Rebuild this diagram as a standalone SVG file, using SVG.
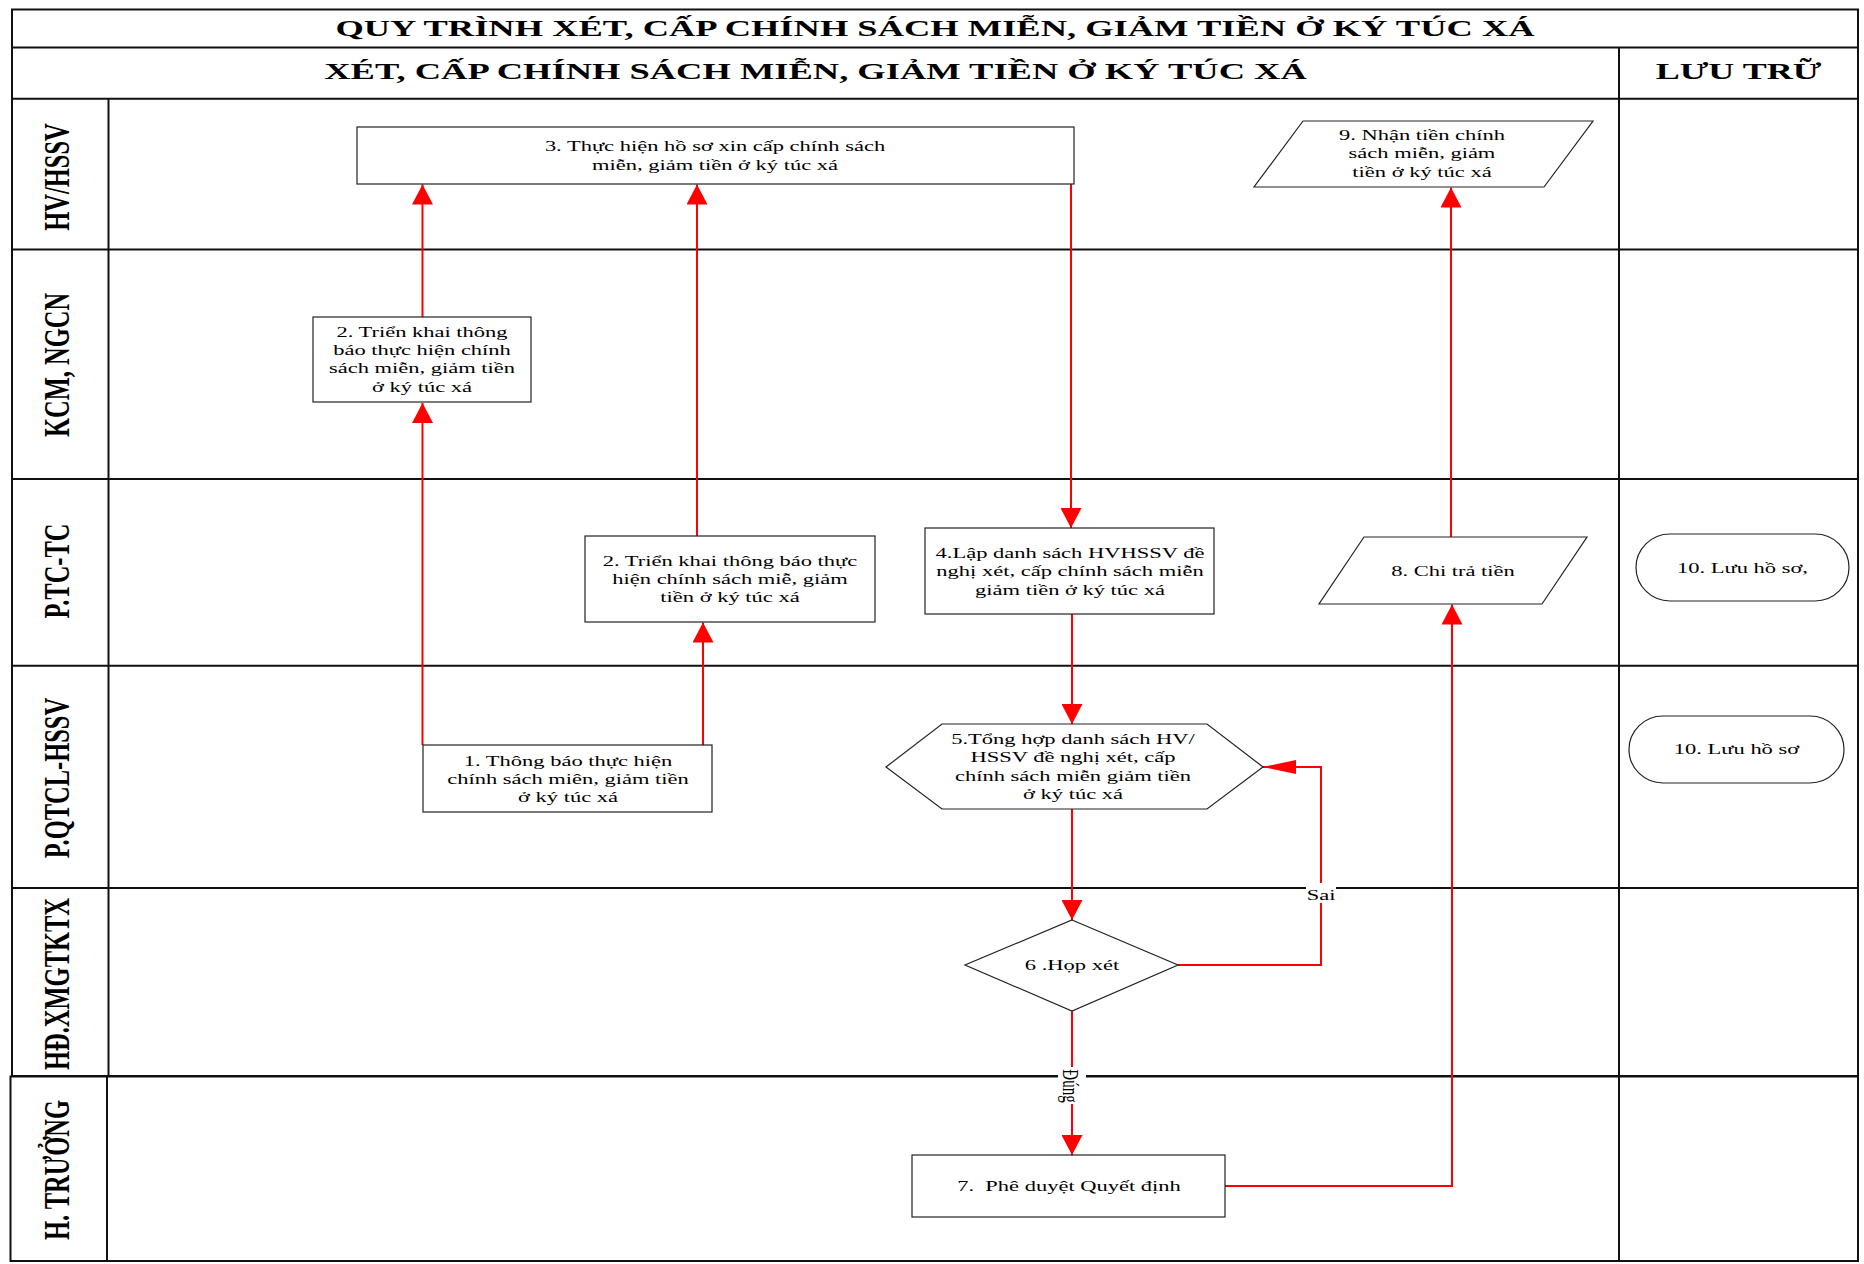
<svg xmlns="http://www.w3.org/2000/svg" width="1864" height="1264" viewBox="0 0 1864 1264">
<style>
.frame{fill:none;stroke:#111;stroke-width:2}
.node{fill:#fff;stroke:#222;stroke-width:1.2}
.t{font-family:"Liberation Serif","Times New Roman",serif;font-size:15px;fill:#000;text-anchor:middle}
.h{font-family:"Liberation Serif","Times New Roman",serif;font-size:24px;font-weight:bold;fill:#000;text-anchor:middle}
.lane{font-family:"Liberation Serif","Times New Roman",serif;font-size:24.5px;font-weight:bold;fill:#000;text-anchor:middle}
.conn{fill:none;stroke:#f00;stroke-width:2}
.bg{fill:#fff;stroke:none}
</style>
<defs>
<marker id="av" markerUnits="userSpaceOnUse" viewBox="0 0 20 21" markerWidth="20" markerHeight="21" refX="20" refY="10.5" orient="auto"><path d="M0,0 L20,10.5 L0,21 Z" fill="#f00"/></marker>
<marker id="ah" markerUnits="userSpaceOnUse" viewBox="0 0 33 14" markerWidth="33" markerHeight="14" refX="33" refY="7" orient="auto"><path d="M0,0 L33,7 L0,14 Z" fill="#f00"/></marker>
</defs>
<rect x="0" y="0" width="1864" height="1264" fill="#fff"/>
<g id="swimlanes">
<rect class="frame" x="12" y="9.5" width="1846" height="1066.5"/>
<line class="frame" x1="12" y1="47.5" x2="1858" y2="47.5"/>
<line class="frame" x1="12" y1="98.7" x2="1858" y2="98.7"/>
<line class="frame" x1="1619" y1="47.5" x2="1619" y2="1261"/>
<line class="frame" x1="108.5" y1="98.7" x2="108.5" y2="1076"/>
<line class="frame" x1="12" y1="249.6" x2="1858" y2="249.6"/>
<line class="frame" x1="12" y1="479" x2="1858" y2="479"/>
<line class="frame" x1="12" y1="665.7" x2="1858" y2="665.7"/>
<line class="frame" x1="12" y1="888" x2="1858" y2="888"/>
<path class="frame" d="M10.5,1076.5 H1858 V1261 H10.5 Z"/>
<line class="frame" x1="107" y1="1076.5" x2="107" y2="1261"/>
<text class="h" transform="translate(935,36) scale(1.52,1)">QUY TRÌNH XÉT, CẤP CHÍNH SÁCH MIỄN, GIẢM TIỀN Ở KÝ TÚC XÁ</text>
<text class="h" transform="translate(815.5,79) scale(1.52,1)">XÉT, CẤP CHÍNH SÁCH MIỄN, GIẢM TIỀN Ở KÝ TÚC XÁ</text>
<text class="h" transform="translate(1738.5,79) scale(1.5,1)">LƯU TRỮ</text>
<text class="lane" transform="translate(69,177) scale(1.5,1) rotate(-90)">HV/HSSV</text>
<text class="lane" transform="translate(69,365) scale(1.5,1) rotate(-90)">KCM, NGCN</text>
<text class="lane" transform="translate(69,571) scale(1.5,1) rotate(-90)">P.TC-TC</text>
<text class="lane" transform="translate(69,778) scale(1.5,1) rotate(-90)">P.QTCL-HSSV</text>
<text class="lane" transform="translate(69,984) scale(1.5,1) rotate(-90)">HĐ.XMGTKTX</text>
<text class="lane" transform="translate(69,1170) scale(1.5,1) rotate(-90)">H. TRƯỞNG</text>
</g>
<g id="connectors">
<path class="conn" d="M422.5,745 V403" marker-end="url(#av)"/>
<path class="conn" d="M422.5,317 V184.5" marker-end="url(#av)"/>
<path class="conn" d="M703,745 V622.5" marker-end="url(#av)"/>
<path class="conn" d="M697,536 V184.5" marker-end="url(#av)"/>
<path class="conn" d="M1071,184 V528" marker-end="url(#av)"/>
<path class="conn" d="M1072,614 V724" marker-end="url(#av)"/>
<path class="conn" d="M1072,809 V920" marker-end="url(#av)"/>
<path class="conn" d="M1178,965 H1321 V767 H1263" marker-end="url(#ah)"/>
<path class="conn" d="M1072,1011 V1155" marker-end="url(#av)"/>
<path class="conn" d="M1225,1186 H1452 V604.5" marker-end="url(#av)"/>
<path class="conn" d="M1451,537 V187.5" marker-end="url(#av)"/>
<rect class="bg" x="1306" y="883" width="30" height="20"/>
<text class="t" transform="translate(1321,900) scale(1.5,1)">Sai</text>
<rect class="bg" x="1058" y="1067" width="28" height="37"/>
<text class="t" transform="translate(1063,1086) scale(1.5,1) rotate(90)">Đúng</text>
</g>
<g id="n1">
<rect class="node" x="423" y="745" width="289" height="67"/>
<text class="t" transform="translate(568,0) scale(1.5,1)"><tspan x="0" y="766">1. Thông báo thực hiện</tspan><tspan x="0" y="784.5">chính sách miên, giảm tiền</tspan><tspan x="0" y="802">ở ký túc xá</tspan></text>
</g>
<g id="n2a">
<rect class="node" x="313" y="317" width="218" height="85"/>
<text class="t" transform="translate(422,0) scale(1.5,1)"><tspan x="0" y="337">2. Triển khai thông</tspan><tspan x="0" y="355">báo thực hiện chính</tspan><tspan x="0" y="373.5">sách miễn, giảm tiền</tspan><tspan x="0" y="392">ở ký túc xá</tspan></text>
</g>
<g id="n2b">
<rect class="node" x="585" y="536" width="290" height="86"/>
<text class="t" transform="translate(730,0) scale(1.5,1)"><tspan x="0" y="566">2. Triển khai thông báo thực</tspan><tspan x="0" y="584">hiện chính sách miễ, giảm</tspan><tspan x="0" y="602.5">tiền ở ký túc xá</tspan></text>
</g>
<g id="n3">
<rect class="node" x="357" y="127" width="717" height="57"/>
<text class="t" transform="translate(715,0) scale(1.5,1)"><tspan x="0" y="151">3. Thực hiện hồ sơ xin cấp chính sách</tspan><tspan x="0" y="170">miễn, giảm tiền ở ký túc xá</tspan></text>
</g>
<g id="n4">
<rect class="node" x="925" y="528" width="289" height="86"/>
<text class="t" transform="translate(1070,0) scale(1.5,1)"><tspan x="0" y="558">4.Lập danh sách HVHSSV đề</tspan><tspan x="0" y="576.5">nghị xét, cấp chính sách miễn</tspan><tspan x="0" y="595">giảm tiền ở ký túc xá</tspan></text>
</g>
<g id="n5">
<polygon class="node" points="886,767 942,724 1207,724 1263,767 1207,809 942,809"/>
<text class="t" transform="translate(1073,0) scale(1.5,1)"><tspan x="0" y="744">5.Tổng hợp danh sách HV/</tspan><tspan x="0" y="762.5">HSSV đề nghị xét, cấp</tspan><tspan x="0" y="781">chính sách miễn giảm tiền</tspan><tspan x="0" y="799">ở ký túc xá</tspan></text>
</g>
<g id="n6">
<polygon class="node" points="1072,920 1178,965 1072,1011 965,965"/>
<text class="t" transform="translate(1072,970) scale(1.5,1)">6 .Họp xét</text>
</g>
<g id="n7">
<rect class="node" x="912" y="1155" width="313" height="62"/>
<text class="t" xml:space="preserve" transform="translate(1069,1191) scale(1.5,1)">7.  Phê duyệt Quyết định</text>
</g>
<g id="n8">
<polygon class="node" points="1364,537 1587,537 1542,604 1319,604"/>
<text class="t" transform="translate(1453,576) scale(1.5,1)">8. Chi trả tiền</text>
</g>
<g id="n9">
<polygon class="node" points="1303,121 1593,121 1544,187 1254,187"/>
<text class="t" transform="translate(1422,0) scale(1.5,1)"><tspan x="0" y="140">9. Nhận tiền chính</tspan><tspan x="0" y="158.5">sách miễn, giảm</tspan><tspan x="0" y="177">tiền ở ký túc xá</tspan></text>
</g>
<g id="n10a">
<rect class="node" x="1636" y="534" width="213" height="67" rx="34" ry="33.5"/>
<text class="t" transform="translate(1742.5,573) scale(1.5,1)">10. Lưu hồ sơ,</text>
</g>
<g id="n10b">
<rect class="node" x="1629" y="716" width="215" height="67" rx="34" ry="33.5"/>
<text class="t" transform="translate(1736.5,754) scale(1.5,1)">10. Lưu hồ sơ</text>
</g>
</svg>
